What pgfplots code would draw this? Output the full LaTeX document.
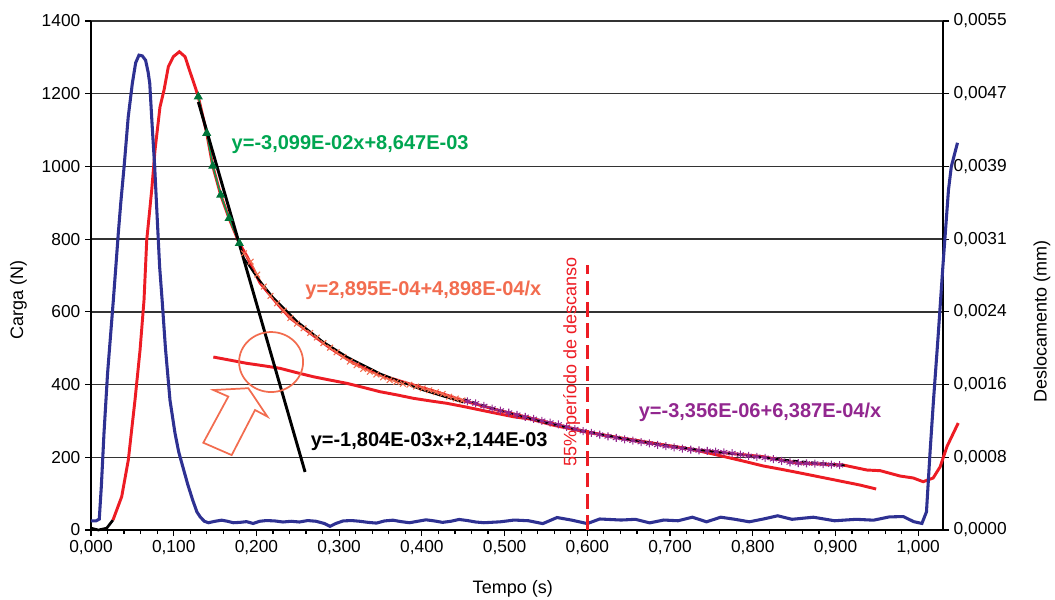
\documentclass[border=0pt]{standalone}
\usepackage{fontspec}
\setmainfont{Liberation Sans}
\usepackage{pgfplots}
\pgfplotsset{compat=1.18}

\definecolor{cblue}{RGB}{46,49,146}
\definecolor{cred}{RGB}{237,28,36}
\definecolor{cgreen}{RGB}{0,166,81}
\definecolor{corange}{RGB}{242,108,79}
\definecolor{cpurple}{RGB}{146,39,143}

\pgfplotsset{
  every axis/.append style={
    scale only axis, width=639pt, height=381.75pt,
    at={(0,0)}, anchor=south west,
    xmin=0, xmax=1.03, clip=false,
    tick align=outside, major tick length=4.5pt, minor tick length=3pt,
    every tick/.style={black, line width=0.9pt},
    axis line style={line width=1.3pt},
    tick label style={font=\fontsize{13}{15}\selectfont},
    label style={font=\fontsize{13.5}{16}\selectfont},
    /pgf/number format/assume math mode=true,
  },
}

\begin{document}
\begin{tikzpicture}
\path[use as bounding box] (-68.25pt,-51.75pt) rectangle (723pt,397.5pt);

% right axis: displacement (mm), grid and fitted curves
\begin{axis}[
  ymin=0, ymax=0.0055,
  axis x line=none, axis y line*=right,
  ytick={0,0.00078571,0.00157143,0.00235714,0.00314286,0.00392857,0.00471429,0.0055},
  scaled y ticks=false,
  yticklabel style={/pgf/number format/.cd, fixed, fixed zerofill, precision=4, use comma},
  ymajorgrids, grid style={black!80, line width=1pt},
  ylabel={Deslocamento (mm)},
  ylabel style={at={(axis description cs:1.116,0.41)}, anchor=center},
]
% start segment
\addplot[black, line width=2pt] coordinates {(0,0.00002) (0.009,0.0) (0.019,0.00002) (0.0266,0.000108)};
% displacement
\addplot[cred, line width=2.2pt] coordinates {
(0.0266,0.000108) (0.0371,0.000360) (0.0451,0.000756) (0.0532,0.001405) (0.0593,0.001945)
(0.0641,0.002485) (0.0674,0.003134) (0.0734,0.003674) (0.0774,0.004106) (0.0834,0.004571)
(0.0883,0.004754) (0.0935,0.005006) (0.0995,0.005114) (0.1068,0.005168) (0.1137,0.005114)
(0.1197,0.004952) (0.1258,0.004790) (0.1297,0.004682) (0.1399,0.004287) (0.1472,0.003933)
(0.1568,0.003620) (0.1669,0.003368) (0.1793,0.003098) (0.1883,0.002961) (0.2044,0.002669)
(0.2245,0.002453) (0.2406,0.002291) (0.2648,0.002129) (0.2890,0.001967) (0.3168,0.001805)
(0.3495,0.001675) (0.3894,0.001567) (0.4220,0.001480) (0.4498,0.001399) (0.4909,0.001297)
(0.5308,0.001210) (0.5985,0.001062) (0.6517,0.000972) (0.7328,0.000864) (0.8126,0.000792)
(0.8537,0.000724) (0.9093,0.000702) (0.9380,0.000648) (0.9541,0.000641) (0.9782,0.000583)
(0.9940,0.000562) (1.0060,0.000522) (1.0181,0.000562) (1.0266,0.000684) (1.0347,0.000900)
(1.0484,0.001156)
};
\addplot[cred, line width=2.2pt] coordinates {
(0.1479,0.001869) (0.1683,0.001835) (0.1883,0.001801) (0.2085,0.001775) (0.2285,0.001747)
(0.2488,0.001700) (0.2688,0.001656) (0.2890,0.001620) (0.3092,0.001585) (0.3295,0.001540)
(0.3495,0.001494) (0.3697,0.001460) (0.3897,0.001423) (0.4100,0.001395) (0.4301,0.001369)
(0.4500,0.001335) (0.4704,0.001297) (0.4905,0.001260) (0.5106,0.001224) (0.5308,0.001199)
(0.5600,0.001130) (0.5985,0.001059) (0.6300,0.001010) (0.6638,0.000962) (0.6950,0.000915)
(0.7243,0.000875) (0.7500,0.000825) (0.7727,0.000778) (0.7930,0.000735) (0.8126,0.000692)
(0.8350,0.000655) (0.8573,0.000616) (0.8800,0.000575) (0.9057,0.000529) (0.9300,0.000485)
(0.9492,0.000443)
};
% marked segments
\addplot[cgreen, line width=1pt, mark=triangle*, mark size=3pt, mark options={fill=cgreen!70!black, draw=cgreen!70!black}] coordinates {
(0.1297,0.004682) (0.1399,0.004287) (0.1472,0.003933) (0.1568,0.003620) (0.1669,0.003368) (0.1793,0.003098)
};
\addplot[corange, line width=0.8pt, mark=x, mark size=3pt] coordinates {
(0.185,0.00299) (0.193,0.00290) (0.201,0.00276) (0.209,0.00263) (0.217,0.00253) (0.225,0.00245)
(0.233,0.00237) (0.241,0.00229) (0.249,0.00223) (0.257,0.00218) (0.265,0.00213) (0.273,0.00208)
(0.281,0.00202) (0.289,0.00197) (0.297,0.00192) (0.305,0.00187) (0.313,0.00182) (0.321,0.00178)
(0.329,0.00174) (0.337,0.00171) (0.345,0.00168) (0.353,0.00165) (0.361,0.00162) (0.369,0.00160)
(0.377,0.00158) (0.385,0.00157) (0.393,0.00155) (0.401,0.00153) (0.409,0.00151) (0.417,0.00149)
(0.425,0.00147) (0.433,0.00144) (0.441,0.00142) (0.449,0.00140)
};
\addplot[cpurple, line width=0.8pt, mark=asterisk, mark size=3pt] coordinates {
(0.455,0.001390) (0.465,0.001368) (0.475,0.001340) (0.485,0.001312) (0.495,0.001290) (0.505,0.001268)
(0.515,0.001245) (0.525,0.001222) (0.535,0.001200) (0.545,0.001180) (0.555,0.001160) (0.565,0.001140)
(0.575,0.001115) (0.585,0.001090) (0.595,0.001068) (0.605,0.001050) (0.615,0.001030) (0.625,0.001012)
(0.635,0.000995) (0.645,0.000980) (0.655,0.000965) (0.665,0.000950) (0.675,0.000935) (0.685,0.000920)
(0.695,0.000905) (0.705,0.000893) (0.715,0.000880) (0.725,0.000868) (0.735,0.000860) (0.745,0.000855)
(0.755,0.000848) (0.765,0.000840) (0.775,0.000830) (0.785,0.000815) (0.795,0.000800) (0.805,0.000790)
(0.815,0.000780) (0.825,0.000765) (0.835,0.000748) (0.845,0.000730) (0.855,0.000722) (0.865,0.000720)
(0.875,0.000718) (0.885,0.000712) (0.895,0.000706) (0.905,0.000700)
};
% trend lines
\addplot[black, line width=2.2pt] coordinates {(0.1298,0.004625) (0.2588,0.000627)};
\addplot[black, line width=1.4pt] coordinates {
(0.185,0.0029371) (0.20,0.0027385) (0.22,0.0025159) (0.25,0.0022487) (0.28,0.0020388)
(0.31,0.0018695) (0.35,0.0016889) (0.40,0.0015140) (0.45,0.0013779)
};
\addplot[black, line width=1.4pt, dash pattern=on 4pt off 3pt] coordinates {
(0.45,0.0014160) (0.50,0.0012740) (0.55,0.0011579) (0.60,0.0010611) (0.65,0.0009793)
(0.70,0.0009091) (0.75,0.0008482) (0.80,0.0007950) (0.85,0.0007481) (0.915,0.0006947)
};
\end{axis}

% left axis: load (N)
\begin{axis}[
  ymin=0, ymax=1400,
  axis x line*=bottom, axis y line*=left,
  xtick={0,0.1,0.2,0.3,0.4,0.5,0.6,0.7,0.8,0.9,1.0},
  minor x tick num=4,
  ytick={0,200,400,600,800,1000,1200,1400},
  xticklabel style={/pgf/number format/.cd, fixed, fixed zerofill, precision=3, use comma},
  yticklabel style={/pgf/number format/1000 sep={}},
  xlabel={Tempo (s)}, ylabel={Carga (N)},
  xlabel style={at={(axis description cs:0.495,-0.116)}, anchor=center},
  ylabel style={at={(axis description cs:-0.085,0.452)}, anchor=center},
]
\addplot[cblue, line width=2.3pt] coordinates {
(0,25) (0.006,25) (0.0100,30) (0.0125,120) (0.0157,266) (0.020,430) (0.027,632) (0.030,723)
(0.033,816) (0.036,900) (0.040,999) (0.045,1136) (0.050,1229) (0.054,1285) (0.058,1306)
(0.062,1304) (0.066,1292) (0.069,1260) (0.071,1229) (0.074,1110) (0.077,999) (0.080,860)
(0.083,723) (0.086,632) (0.090,500) (0.0955,357) (0.1015,267) (0.106,215) (0.111,174)
(0.117,125) (0.123,82) (0.128,50) (0.132,36) (0.137,24) (0.142,20) (0.150,24) (0.158,27)
(0.165,24) (0.172,20) (0.180,21) (0.188,23) (0.196,18) (0.204,24) (0.212,26) (0.222,25)
(0.232,22) (0.242,24) (0.252,22) (0.262,26) (0.272,24) (0.282,18) (0.289,10) (0.296,18)
(0.305,25) (0.315,26) (0.325,24) (0.335,21) (0.345,19) (0.355,25) (0.365,27) (0.375,23)
(0.385,20) (0.395,24) (0.405,28) (0.415,25) (0.425,21) (0.435,24) (0.445,29) (0.455,26)
(0.465,22) (0.475,20) (0.4946,22.5) (0.5117,27.4) (0.5290,25.4) (0.5462,17.6) (0.5634,34.3)
(0.5806,27.4) (0.6000,17.6) (0.6150,30.3) (0.6409,27.4) (0.6581,29.4) (0.6753,19.6)
(0.6925,27.4) (0.7097,25.4) (0.7270,35.2) (0.7441,22.5) (0.7613,35.2) (0.7786,29.4)
(0.7958,22.5) (0.8129,30.3) (0.8302,39.1) (0.8474,29.4) (0.8733,35.2) (0.8990,25.4)
(0.9249,29.4) (0.9460,27) (0.9650,36) (0.9820,37) (0.9945,23) (1.0045,18) (1.0100,50)
(1.0145,220) (1.0185,357) (1.024,530) (1.030,730) (1.0366,935) (1.040,999) (1.0475,1065)
};
% rest-period marker
\addplot[cred, line width=1.8pt, dash pattern=on 11pt off 5pt] coordinates {(0.6,0) (0.6,729)};
\node[rotate=90, text=cred, font=\fontsize{13.5}{16}\selectfont] at (axis cs:0.581,462) {55\% período de descanso};

% equations
\node[anchor=west, text=cgreen, font=\bfseries\fontsize{15}{18}\selectfont] at (axis cs:0.1644,1059) {y=-3,099E-02x+8,647E-03};
\node[anchor=west, text=corange, font=\bfseries\fontsize{15}{18}\selectfont] at (axis cs:0.2536,660) {y=2,895E-04+4,898E-04/x};
\node[anchor=west, text=black, font=\bfseries\fontsize{15}{18}\selectfont] at (axis cs:0.260,242) {y=-1,804E-03x+2,144E-03};
\node[anchor=west, text=cpurple, font=\bfseries\fontsize{15}{18}\selectfont] at (axis cs:0.6566,324.5) {y=-3,356E-06+6,387E-04/x};

% circle and arrow
\draw[corange, line width=1.3pt] (axis cs:0.2177,462) ellipse [x radius=24pt, y radius=22.5pt];
\draw[corange, line width=1.3pt, line join=miter] (axis cs:0.1479,385) -- (axis cs:0.1902,390) -- (axis cs:0.2132,312)
  -- (axis cs:0.1983,330) -- (axis cs:0.1701,206) -- (axis cs:0.1358,240) -- (axis cs:0.1660,367) -- cycle;
\end{axis}
\end{tikzpicture}
\end{document}
